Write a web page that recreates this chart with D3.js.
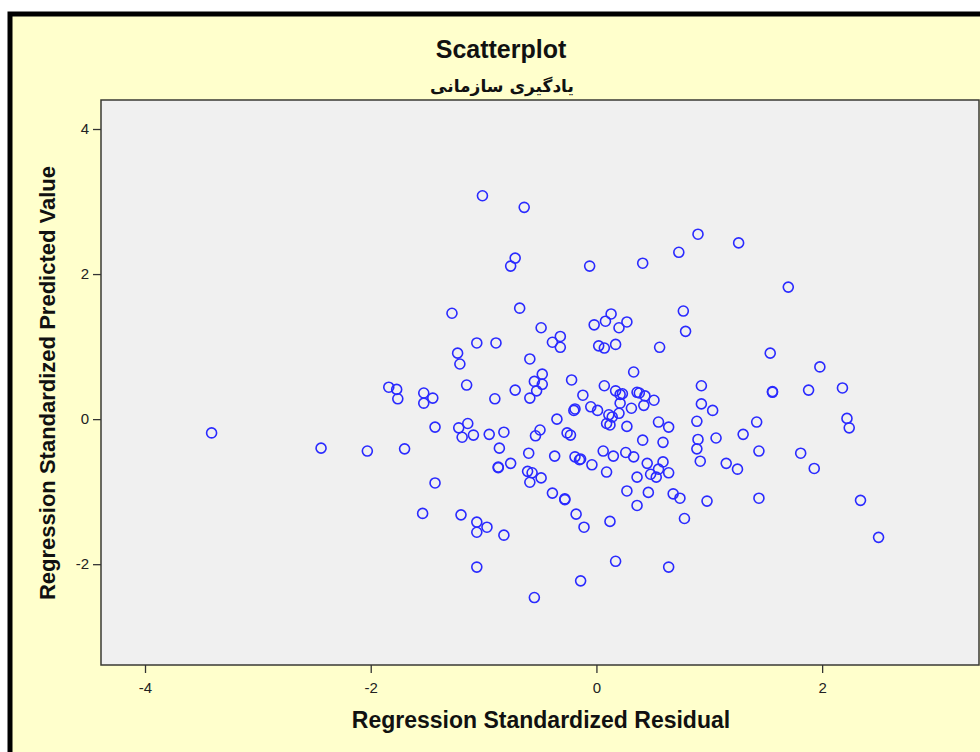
<!DOCTYPE html>
<html>
<head>
<meta charset="utf-8">
<script src="https://cdn.jsdelivr.net/npm/d3@7"></script>
<style>
html,body{margin:0;padding:0;background:#fff;}
svg{display:block;}
</style>
</head>
<body>
<svg id="chart" width="980" height="752"></svg>
<script>
const titleText = "Scatterplot";
const subtitleText = "یادگیری سازمانی";
const xTitle = "Regression Standardized Residual";
const yTitle = "Regression Standardized Predicted Value";
const xTicks = [-4, -2, 0, 2];
const yTicks = [4, 2, 0, -2];
const xDomain = [-4.39, 3.39];
const yDomain = [-3.39, 4.4];

const residual = [
-1.01,-0.64,0.90,1.26,-0.72,-0.76,-0.06,0.41,0.73,1.70,1.54,1.98,
-1.28,-0.68,-0.49,-0.39,-0.32,-0.32,-0.02,0.08,0.13,0.20,0.27,0.02,0.07,0.17,0.56,0.77,0.79,
-1.06,-0.89,-1.23,-1.21,-0.59,-1.15,-0.48,-0.55,-0.48,-0.53,-0.59,-0.72,-0.90,-0.22,-0.12,
0.07,0.17,0.21,0.23,-0.19,-0.20,-0.05,0.01,0.11,0.14,0.09,0.12,0.20,
-1.53,-1.45,-1.53,-1.43,-1.22,-1.14,-1.19,-1.09,-0.95,-0.82,-0.50,-0.54,-0.35,-0.26,-0.23,
0.33,0.36,0.38,0.43,0.42,0.51,0.21,0.31,0.27,0.55,0.64,0.93,0.93,1.03,0.89,1.42,1.56,1.56,
1.30,0.90,1.06,0.41,0.59,0.89,1.44,1.81,0.06,0.15,0.26,0.33,0.09,0.45,0.59,0.55,0.48,0.53,
0.64,0.36,0.92,1.15,1.25,0.27,0.46,0.68,0.74,0.36,0.98,1.44,0.12,0.78,0.17,0.64,
-0.86,-0.60,-0.37,-0.19,-0.14,-0.15,-0.04,-0.87,-0.87,-0.76,-0.61,-0.57,-0.59,-0.49,-1.43,
-0.39,-0.28,-0.28,-1.54,-1.20,-1.06,-0.97,-1.06,-0.82,-0.18,-0.11,-1.06,-0.14,-0.55,
-3.41,-2.44,-2.03,-1.70,-1.84,-1.77,-1.76,1.88,2.18,2.22,2.24,1.93,2.34,2.50
];
const predicted = [
3.08,2.92,2.55,2.43,2.22,2.11,2.11,2.15,2.30,1.82,0.91,0.72,
1.46,1.53,1.26,1.06,1.14,0.99,1.30,1.35,1.45,1.26,1.34,1.01,0.98,1.03,0.99,1.49,1.21,
1.05,1.05,0.91,0.76,0.83,0.47,0.62,0.52,0.48,0.39,0.29,0.40,0.28,0.54,0.33,
0.46,0.39,0.34,0.35,0.14,0.12,0.17,0.12,0.06,0.03,-0.06,-0.08,0.08,
0.36,0.29,0.22,-0.11,-0.12,-0.06,-0.25,-0.22,-0.21,-0.18,-0.15,-0.23,0.00,-0.19,-0.22,
0.65,0.37,0.36,0.32,0.19,0.26,0.22,0.15,-0.10,-0.04,-0.11,0.46,0.21,0.12,-0.03,-0.04,0.37,0.38,
-0.21,-0.28,-0.26,-0.29,-0.32,-0.41,-0.44,-0.47,-0.44,-0.51,-0.46,-0.52,-0.73,-0.61,-0.59,-0.69,-0.76,-0.80,
-0.74,-0.80,-0.58,-0.61,-0.69,-0.99,-1.01,-1.03,-1.09,-1.19,-1.13,-1.09,-1.41,-1.37,-1.96,-2.04,
-0.40,-0.47,-0.51,-0.52,-0.55,-0.56,-0.63,-0.66,-0.67,-0.61,-0.72,-0.74,-0.87,-0.81,-0.88,
-1.02,-1.10,-1.11,-1.30,-1.32,-1.42,-1.49,-1.56,-1.60,-1.31,-1.49,-2.04,-2.23,-2.46,
-0.19,-0.40,-0.44,-0.41,0.44,0.41,0.28,0.40,0.43,0.01,-0.12,-0.68,-1.12,-1.63
];

const points = residual.map((r, i) => ({x: r, y: predicted[i]}));

const svg = d3.select("#chart");
const W = 980, H = 752;

// outer frame
svg.append("rect").attr("x", 0).attr("y", 0).attr("width", W).attr("height", H).attr("fill", "#ffffff");
svg.append("rect").attr("x", 10).attr("y", 14).attr("width", 1100).attr("height", 900)
  .attr("fill", "#ffffcc").attr("stroke", "#000").attr("stroke-width", 5);

const plot = {left: 101, right: 979, top: 100, bottom: 665};

const x = d3.scaleLinear().domain(xDomain).range([plot.left, plot.right]);
const y = d3.scaleLinear().domain(yDomain).range([plot.bottom, plot.top]);

// plot background
svg.append("rect").attr("x", plot.left).attr("y", plot.top)
  .attr("width", plot.right - plot.left).attr("height", plot.bottom - plot.top)
  .attr("fill", "#f0f0f0").attr("stroke", "#3a3a34").attr("stroke-width", 1.5);

// axes
const xAxis = d3.axisBottom(x).tickValues(xTicks).tickSize(8).tickPadding(9).tickFormat(d3.format("d"));
const yAxis = d3.axisLeft(y).tickValues(yTicks).tickSize(8).tickPadding(4).tickFormat(d3.format("d"));

const gx = svg.append("g").attr("transform", `translate(0,${plot.bottom})`).call(xAxis);
const gy = svg.append("g").attr("transform", `translate(${plot.left},0)`).call(yAxis);
[gx, gy].forEach(g => {
  g.select(".domain").remove();
  g.selectAll(".tick line").attr("stroke", "#333").attr("stroke-width", 1.3);
  g.selectAll(".tick text").attr("fill", "#222").style("font-family", "'Liberation Sans', Arial, sans-serif").style("font-size", "15px");
  g.selectAll(".tick text").text(d => d < 0 ? "-" + Math.abs(d) : String(d));
});

// points
svg.append("g").selectAll("circle").data(points).join("circle")
  .attr("cx", d => x(d.x)).attr("cy", d => y(d.y)).attr("r", 5)
  .attr("fill", "none").attr("stroke", "#2a2aff").attr("stroke-width", 1.6);

// titles
const font = "'Liberation Sans', Arial, sans-serif";
svg.append("text").attr("x", 501).attr("y", 58).attr("text-anchor", "middle")
  .style("font-family", font).style("font-weight", "bold").style("font-size", "25px").attr("fill", "#111")
  .text(titleText);
svg.append("text").attr("x", 502).attr("y", 92).attr("text-anchor", "middle").attr("direction", "rtl")
  .style("font-family", "'DejaVu Sans', sans-serif").style("font-weight", "bold").style("font-size", "17px").attr("fill", "#111")
  .text(subtitleText);
svg.append("text").attr("x", 541).attr("y", 728).attr("text-anchor", "middle")
  .style("font-family", font).style("font-weight", "bold").style("font-size", "23px").attr("fill", "#111")
  .text(xTitle);
svg.append("text").attr("transform", "translate(55,383) rotate(-90)").attr("text-anchor", "middle")
  .style("font-family", font).style("font-weight", "bold").style("font-size", "22px").attr("fill", "#111")
  .text(yTitle);
</script>
</body>
</html>
